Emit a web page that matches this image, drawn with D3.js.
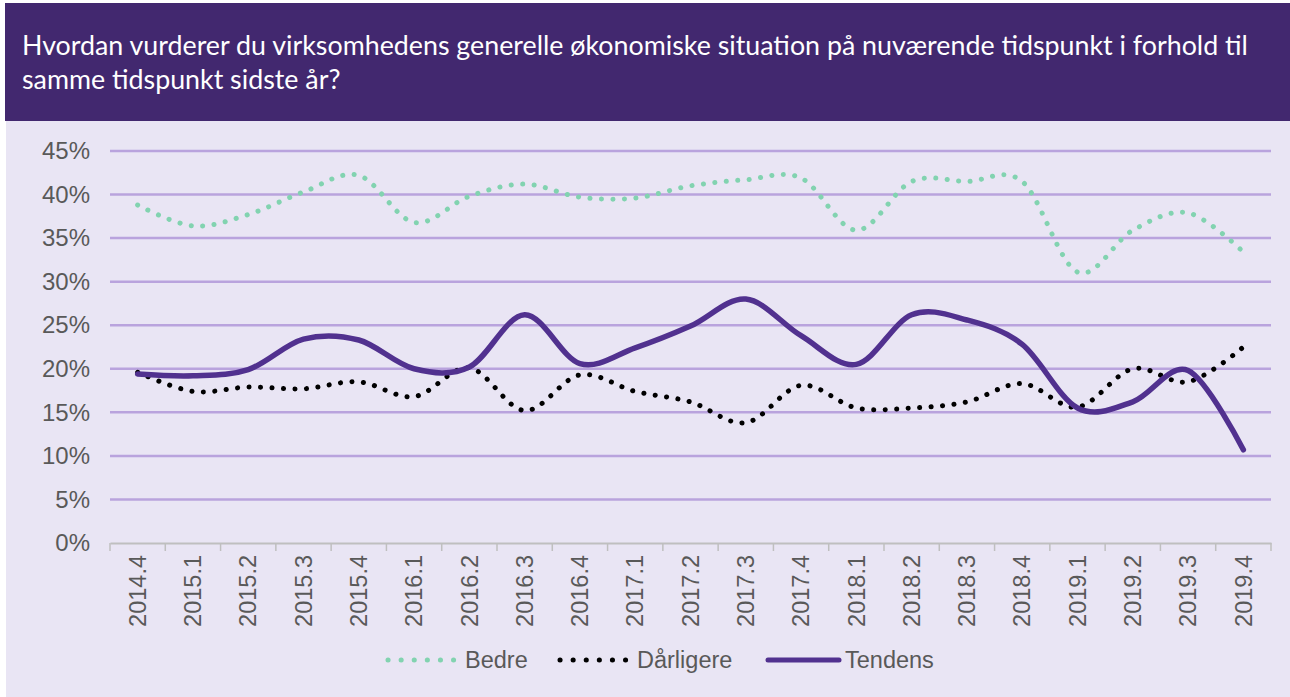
<!DOCTYPE html>
<html lang="da">
<head>
<meta charset="UTF-8">
<title>Virksomhedens økonomiske situation</title>
<script src="https://d3js.org/d3.v7.min.js"></script>
<style>
  body { margin: 0; background: #fff; }
  svg { display: block; }
</style>
</head>
<body>
<svg id="chart" width="1290" height="697"></svg>
<script>
// data
const quarters = ["2014.4","2015.1","2015.2","2015.3","2015.4","2016.1","2016.2","2016.3","2016.4",
  "2017.1","2017.2","2017.3","2017.4","2018.1","2018.2","2018.3","2018.4","2019.1","2019.2","2019.3","2019.4"];
const bedre     = [38.8,36.4,37.7,40.3,42.2,36.8,39.8,41.2,39.7,39.6,41.0,41.7,41.9,35.9,41.5,41.5,41.5,31.1,35.9,37.9,33.4];
const daarligere= [19.6,17.4,17.9,17.7,18.5,16.8,20.1,15.2,19.3,17.4,16.2,13.8,18.1,15.5,15.5,16.2,18.3,15.6,20.0,18.5,22.5];
const tendens   = [19.4,19.2,19.9,23.4,23.3,20.0,20.2,26.2,20.6,22.4,24.9,28.0,23.8,20.5,26.2,25.6,22.8,15.5,16.2,19.8,10.7];
const yTicks = [0,5,10,15,20,25,30,35,40,45];

const series = [
  {name: "Bedre", values: bedre, color: "#82D3B0", dots: true},
  {name: "Dårligere", values: daarligere, color: "#000000", dots: true},
  {name: "Tendens", values: tendens, color: "#51318F", dots: false}
];

const svg = d3.select("#chart");

// background panels
svg.append("rect").attr("x", 6).attr("y", 121).attr("width", 1284).attr("height", 576).attr("fill", "#E9E5F4");
svg.append("rect").attr("x", 5).attr("y", 3).attr("width", 1285).attr("height", 118).attr("fill", "#42286F");

const title = svg.append("text")
  .attr("fill", "#fff")
  .style("font-family", "Lato, 'Open Sans', sans-serif")
  .style("font-size", "26.8px");
title.append("tspan").attr("x", 22).attr("y", 55)
  .text("Hvordan vurderer du virksomhedens generelle økonomiske situation på nuværende tidspunkt i forhold til");
title.append("tspan").attr("x", 22).attr("y", 89).text("samme tidspunkt sidste år?");

// scales
const x = d3.scaleBand().domain(quarters).range([110, 1271]);
const y = d3.scaleLinear().domain([0, 45]).range([543, 151]);

// gridlines
svg.append("g").selectAll("line")
  .data(yTicks.filter(d => d > 0))
  .join("line")
  .attr("x1", 110).attr("x2", 1271)
  .attr("y1", d => y(d)).attr("y2", d => y(d))
  .attr("stroke", "#B9A3DD").attr("stroke-width", 2.5);

// y axis
const yAxis = svg.append("g")
  .attr("transform", "translate(110,0)")
  .call(d3.axisLeft(y).tickValues(yTicks).tickFormat(d => d + "%").tickSize(0).tickPadding(20));
yAxis.select(".domain").remove();
yAxis.selectAll("text")
  .attr("fill", "#595959")
  .style("font-family", "Arial, 'Liberation Sans', sans-serif")
  .style("font-size", "24px");

// x axis
const xAxis = svg.append("g")
  .attr("transform", "translate(0,543)")
  .call(d3.axisBottom(x).tickSize(0).tickPadding(0));
xAxis.select(".domain").attr("stroke", "#BFBFBF").attr("stroke-width", 2);
xAxis.selectAll("text")
  .attr("fill", "#595959")
  .style("font-family", "Arial, 'Liberation Sans', sans-serif")
  .style("font-size", "23.5px")
  .attr("transform", "rotate(-90)")
  .attr("text-anchor", "end")
  .attr("x", -12)
  .attr("y", 0)
  .attr("dy", "0.35em");
// tick marks between categories
const bounds = quarters.map(q => x(q)).concat([x.range()[1]]);
svg.append("g").selectAll("line")
  .data(bounds)
  .join("line")
  .attr("x1", d => d).attr("x2", d => d)
  .attr("y1", 543).attr("y2", 551)
  .attr("stroke", "#BFBFBF").attr("stroke-width", 1.5);

// lines
const line = d3.line()
  .x((d, i) => x(quarters[i]) + x.bandwidth() / 2)
  .y(d => y(d))
  .curve(d3.curveCatmullRom.alpha(0));

svg.append("g").selectAll("path")
  .data(series)
  .join("path")
  .attr("d", d => line(d.values))
  .attr("fill", "none")
  .attr("stroke", d => d.color)
  .attr("stroke-width", d => d.dots ? 5 : 5.5)
  .attr("stroke-linecap", "round")
  .attr("stroke-linejoin", "round")
  .attr("stroke-dasharray", d => d.dots ? "0.1 11.4" : null);

// legend
const legendX = [388, 560, 768];
const legend = svg.append("g").selectAll("g")
  .data(series)
  .join("g")
  .attr("transform", (d, i) => `translate(${legendX[i]},660)`);
legend.append("line")
  .attr("x1", 0).attr("x2", d => d.dots ? 66 : 71)
  .attr("y1", 0).attr("y2", 0)
  .attr("stroke", d => d.color)
  .attr("stroke-width", 5)
  .attr("stroke-linecap", "round")
  .attr("stroke-dasharray", d => d.dots ? "0.1 13" : null);
legend.append("text")
  .attr("x", d => d.dots ? 77 : 77)
  .attr("y", 0)
  .attr("dy", "0.35em")
  .attr("fill", "#595959")
  .style("font-family", "Arial, 'Liberation Sans', sans-serif")
  .style("font-size", "23.5px")
  .text(d => d.name);
</script>
</body>
</html>
